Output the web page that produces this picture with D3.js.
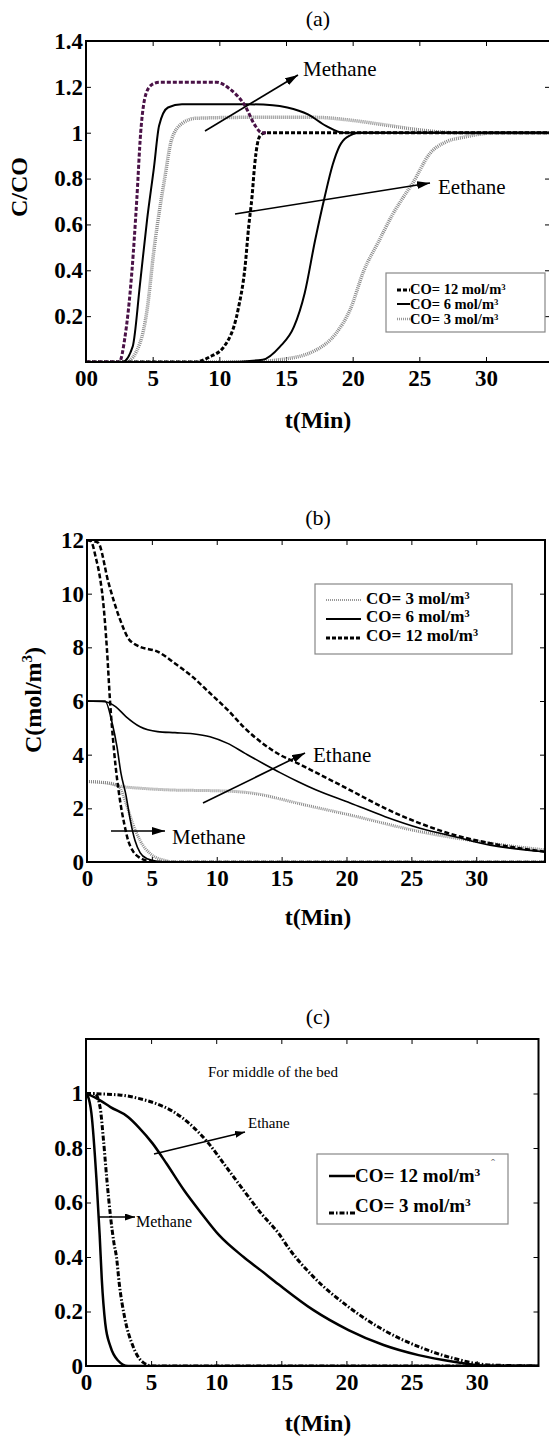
<!DOCTYPE html>
<html>
<head>
<meta charset="utf-8">
<script src="https://cdn.jsdelivr.net/npm/d3@7"></script>
<style>
    body { margin: 0; background: #fff; }
    svg text { font-family: "Liberation Serif", "Times New Roman", serif; }
</style>
</head>
<body>
<div id="chart"></div>
<script>
// Tick values shared by the three panels
var xTicks = [0, 5, 10, 15, 20, 25, 30];
var yTicksA = [0.2, 0.4, 0.6, 0.8, 1, 1.2, 1.4];
var yTicksB = [0, 2, 4, 6, 8, 10, 12];
var yTicksC = [0, 0.2, 0.4, 0.6, 0.8, 1];

// Panel (a): C/CO vs t(Min), [t, value]
var aMethane12 = [[0, 0], [2.5, 0], [2.9, 0.1], [3.45, 0.4], [3.8, 0.7], [4.1, 1.0], [4.5, 1.17], [4.95, 1.21], [5.5, 1.22], [9.8, 1.22], [10.8, 1.19], [11.9, 1.12], [12.7, 1.03], [13.2, 1.0], [13.6, 1.0]];
var aEthane12 = [[0, 0], [8.2, 0], [9.3, 0.023], [10.35, 0.067], [11.4, 0.227], [11.93, 0.416], [12.2, 0.59], [12.45, 0.72], [12.65, 0.86], [12.85, 0.95], [13.1, 0.99], [13.5, 1.0], [34.8, 1.0]];
var aMethane6 = [[0, 0], [2.74, 0], [3.5, 0.067], [4.05, 0.34], [4.58, 0.62], [5.1, 0.85], [5.48, 1.03], [6.15, 1.11], [7.2, 1.124], [12, 1.124], [14, 1.12], [15.1, 1.11], [16.65, 1.08], [18.0, 1.03], [19.3, 1.0], [34.8, 1.0]];
var aEthane6 = [[0, 0], [10.35, 0], [13.25, 0.01], [14.55, 0.067], [15.6, 0.154], [16.4, 0.3], [17.18, 0.53], [17.9, 0.72], [18.5, 0.86], [19.0, 0.94], [19.55, 0.98], [20.6, 1.0], [34.8, 1.0]];
var aMethane3 = [[0, 0], [3.0, 0], [4.05, 0.083], [4.58, 0.227], [5.1, 0.49], [5.63, 0.706], [5.9, 0.8], [6.42, 0.97], [7.2, 1.04], [8.25, 1.063], [12, 1.067], [17.18, 1.067], [19.8, 1.055], [22.4, 1.034], [25.06, 1.012], [27.7, 1.0], [34.8, 1.0]];
var aEthane3 = [[0, 0], [11.93, 0], [14.55, 0.01], [17.18, 0.05], [18.75, 0.125], [19.8, 0.227], [20.85, 0.4], [21.9, 0.52], [22.96, 0.64], [23.7, 0.71], [24.5, 0.78], [25.8, 0.91], [27.0, 0.96], [28.3, 0.98], [30.8, 1.0], [34.8, 1.0]];

// Panel (b): C(mol/m3) vs t(Min)
var bMethane12 = [[0, 12], [0.3, 11.95], [0.7, 11.3], [1.0, 10.6], [1.23, 9.77], [1.54, 7.9], [1.77, 6.04], [2.08, 4.17], [2.54, 2.31], [2.88, 1.4], [3.16, 0.82], [3.55, 0.4], [4.09, 0.15], [4.6, 0.05], [5.17, 0], [35.3, 0]];
var bEthane12 = [[0, 12], [0.85, 11.9], [1.66, 10.4], [2.47, 9.14], [3.28, 8.27], [3.55, 8.16], [4.09, 8.02], [5.44, 7.84], [6.78, 7.4], [8.14, 6.9], [9.48, 6.29], [10.84, 5.67], [12.18, 4.98], [13.54, 4.42], [14.88, 3.99], [16.24, 3.68], [17.58, 3.35], [20.28, 2.68], [22.98, 2.0], [25.67, 1.44], [28.37, 1.0], [31.07, 0.7], [35.3, 0.38]];
var bMethane6 = [[0, 6], [1.39, 6], [1.93, 5.2], [2.31, 4.3], [2.62, 3.3], [3.0, 2.5], [3.32, 1.6], [3.7, 0.8], [4.09, 0.35], [4.63, 0.12], [5.4, 0.03], [6.4, 0], [35.3, 0]];
var bEthane6 = [[0, 6], [1.39, 5.97], [2.2, 5.79], [3.0, 5.42], [4.09, 5.04], [5.44, 4.86], [6.78, 4.82], [8.14, 4.78], [9.48, 4.67], [10.84, 4.42], [12.18, 4.05], [13.54, 3.68], [14.88, 3.33], [16.24, 3.0], [17.58, 2.7], [20.28, 2.2], [22.98, 1.69], [25.67, 1.26], [28.37, 0.94], [31.07, 0.63], [35.3, 0.38]];
var bMethane3 = [[0, 3.0], [1.62, 2.95], [2.47, 2.8], [3.0, 2.2], [3.55, 1.4], [4.09, 0.8], [4.9, 0.3], [5.98, 0.06], [6.78, 0], [35.3, 0]];
var bEthane3 = [[0, 3.0], [1.66, 2.93], [2.74, 2.81], [4.09, 2.75], [6.78, 2.68], [9.48, 2.66], [11.64, 2.62], [13.54, 2.5], [14.88, 2.35], [16.24, 2.19], [20.28, 1.75], [25.67, 1.13], [31.07, 0.7], [35.3, 0.45]];

// Panel (c): middle of the bed
var cMethane12 = [[0, 1], [0.15, 0.99], [0.41, 0.93], [0.81, 0.68], [1.05, 0.48], [1.21, 0.32], [1.48, 0.156], [1.88, 0.071], [2.42, 0.022], [3.23, 0], [34.75, 0]];
var cMethane3 = [[0, 1], [0.68, 1.0], [1.08, 0.95], [1.34, 0.83], [1.61, 0.68], [1.88, 0.55], [2.15, 0.45], [2.34, 0.4], [2.56, 0.3], [2.96, 0.18], [3.63, 0.07], [4.31, 0.016], [5.11, 0], [34.75, 0]];
var cEthane12 = [[0, 1.0], [1.08, 0.975], [1.88, 0.95], [3.23, 0.914], [4.03, 0.877], [5.11, 0.817], [6.18, 0.743], [7.53, 0.645], [8.87, 0.56], [10.22, 0.48], [12.1, 0.4], [13.45, 0.35], [14.78, 0.3], [17.47, 0.205], [20.16, 0.132], [22.85, 0.077], [25.54, 0.04], [28.23, 0.016], [30.9, 0], [34.75, 0]];
var cEthane3 = [[0, 1.0], [2.69, 0.994], [4.03, 0.982], [5.38, 0.963], [6.72, 0.933], [8.07, 0.884], [9.41, 0.817], [10.76, 0.731], [12.1, 0.645], [13.45, 0.56], [14.78, 0.487], [15.6, 0.43], [17.47, 0.327], [20.16, 0.217], [22.85, 0.132], [25.54, 0.071], [28.23, 0.028], [30.9, 0.004], [34.75, 0]];

// Legend labels
var legendA = ["CO= 12 mol/m", "CO= 6 mol/m", "CO= 3 mol/m"];
var legendB = ["CO= 3 mol/m", "CO= 6 mol/m", "CO= 12 mol/m"];
var legendC = ["CO= 12 mol/m", "CO= 3 mol/m"];

// Line styles
var styles = {
    dashPurple: { color: "#4a1247", width: 3, dash: "4,2" },
    dashBlack: { color: "#000", width: 3, dash: "4,2" },
    solidA: { color: "#000", width: 2, dash: null },
    dotA: { color: "#8a8a8a", width: 3.5, dash: "1,1" },
    dashB: { color: "#000", width: 2.5, dash: "5,2.5" },
    solidB: { color: "#000", width: 1.6, dash: null },
    dotB: { color: "#8a8a8a", width: 3, dash: "1,1" },
    solidC: { color: "#000", width: 2.5, dash: null },
    dashDotC: { color: "#000", width: 3, dash: "5,2,1.5,2" }
};

var svg = d3.select("#chart").append("svg")
    .attr("width", 549)
    .attr("height", 1436)
    .attr("font-family", "'Liberation Serif', 'Times New Roman', serif")
    .style("background", "#fff");

var defs = svg.append("defs");

// Arrow heads, a large one and a small one
function addMarker(id, len, half) {
    defs.append("marker")
        .attr("id", id)
        .attr("viewBox", `0 0 ${len} ${half * 2}`)
        .attr("refX", len)
        .attr("refY", half)
        .attr("markerWidth", len)
        .attr("markerHeight", half * 2)
        .attr("markerUnits", "userSpaceOnUse")
        .attr("orient", "auto")
        .append("path")
        .attr("d", `M0,0L${len},${half}L0,${half * 2}Z`)
        .attr("fill", "#000");
}
addMarker("arrowBig", 13, 4);
addMarker("arrowSmall", 10, 3.5);

// Draw one panel: box, axes, curves
function drawPanel(p) {
    var x = d3.scaleLinear().domain([0, p.xMax]).range([p.left, p.right]);
    var y = d3.scaleLinear().domain([0, p.yMax]).range([p.bottom, p.top]);
    var g = svg.append("g");

    defs.append("clipPath").attr("id", p.id + "-clip")
        .append("rect")
        .attr("x", p.left)
        .attr("y", p.top)
        .attr("width", p.right - p.left)
        .attr("height", p.bottom - p.top);

    // Bottom axis with labels, ticks point inward
    var xAxis = g.append("g")
        .attr("transform", `translate(0,${p.bottom})`)
        .call(d3.axisBottom(x).tickValues(xTicks).tickSizeInner(-5).tickSizeOuter(0).tickPadding(8)
            .tickFormat(p.xFormat || (d => d)));

    // Left axis with labels
    var yAxis = g.append("g")
        .attr("transform", `translate(${p.left},0)`)
        .call(d3.axisLeft(y).tickValues(p.yTicks).tickSizeInner(-5).tickSizeOuter(0).tickPadding(3)
            .tickFormat(d => d));

    // Top and right tick marks only
    var xTop = g.append("g")
        .attr("transform", `translate(0,${p.top})`)
        .call(d3.axisTop(x).tickValues(xTicks).tickSizeInner(-5).tickSizeOuter(0).tickFormat(""));
    var yRight = g.append("g")
        .attr("transform", `translate(${p.right},0)`)
        .call(d3.axisRight(y).tickValues(p.yTicks).tickSizeInner(-5).tickSizeOuter(0).tickFormat(""));

    [xAxis, yAxis, xTop, yRight].forEach(function (a) {
        a.attr("font-family", null).attr("font-size", null);
        a.select(".domain").remove();
        a.selectAll(".tick line").attr("stroke", "#000").attr("stroke-width", 1);
        a.selectAll("text")
            .attr("font-size", 23)
            .attr("font-weight", "bold")
            .attr("fill", "#000");
    });

    // Curves
    var line = d3.line()
        .x(d => x(d[0]))
        .y(d => y(d[1]))
        .curve(d3.curveMonotoneX);

    g.append("g")
        .attr("clip-path", `url(#${p.id}-clip)`)
        .selectAll("path")
        .data(p.series)
        .join("path")
        .attr("d", s => line(s.data))
        .attr("fill", "none")
        .attr("stroke", s => s.style.color)
        .attr("stroke-width", s => s.style.width)
        .attr("stroke-dasharray", s => s.style.dash)
        .attr("stroke-linejoin", "round");

    // Frame
    g.append("rect")
        .attr("x", p.left)
        .attr("y", p.top)
        .attr("width", p.right - p.left)
        .attr("height", p.bottom - p.top)
        .attr("fill", "none")
        .attr("stroke", "#000")
        .attr("stroke-width", 2);

    // Panel title and x title
    svg.append("text")
        .attr("x", 318).attr("y", p.top - 23).attr("dy", "0.35em")
        .attr("text-anchor", "middle").attr("font-size", 22)
        .text(p.title);
    svg.append("text")
        .attr("x", 318).attr("y", p.xTitleY).attr("dy", "0.35em")
        .attr("text-anchor", "middle").attr("font-size", 24).attr("font-weight", "bold")
        .text("t(Min)");

    return { x: x, y: y };
}

// Legend box with line samples and superscript 3
function drawLegend(box, labels, rows) {
    svg.append("rect")
        .attr("x", box.x).attr("y", box.y)
        .attr("width", box.w).attr("height", box.h)
        .attr("fill", "#fff")
        .attr("stroke", "#888")
        .attr("stroke-width", 1.2);
    labels.forEach(function (lab, i) {
        var r = rows[i];
        svg.append("line")
            .attr("x1", r.x1).attr("x2", r.x2)
            .attr("y1", r.ly).attr("y2", r.ly)
            .attr("stroke", r.style.color)
            .attr("stroke-width", r.style.width)
            .attr("stroke-dasharray", r.style.dash);
        var t = svg.append("text")
            .attr("x", r.tx).attr("y", r.ty)
            .attr("font-size", box.fs).attr("font-weight", "bold");
        t.append("tspan").text(lab);
        t.append("tspan").attr("dy", -box.fs * 0.3).attr("font-size", box.fs * 0.6).text("3");
    });
}

// Arrow with its label
function drawArrow(x1, y1, x2, y2, marker) {
    svg.append("line")
        .attr("x1", x1).attr("y1", y1)
        .attr("x2", x2).attr("y2", y2)
        .attr("stroke", "#000")
        .attr("stroke-width", 1.6)
        .attr("marker-end", `url(#${marker})`);
}
function drawNote(x, y, txt, fs) {
    svg.append("text")
        .attr("x", x).attr("y", y)
        .attr("font-size", fs)
        .text(txt);
}

// ---- Panel (a)
drawPanel({
    id: "pa", title: "(a)", left: 86, right: 550, top: 41, bottom: 362,
    xMax: 34.8, yMax: 1.4, yTicks: yTicksA, xTitleY: 420,
    xFormat: d => d === 0 ? "00" : d,
    series: [
        { data: aMethane3, style: styles.dotA },
        { data: aEthane3, style: styles.dotA },
        { data: aMethane6, style: styles.solidA },
        { data: aEthane6, style: styles.solidA },
        { data: aEthane12, style: styles.dashBlack },
        { data: aMethane12, style: styles.dashPurple }
    ]
});
svg.append("text")
    .attr("transform", "translate(19,187) rotate(-90)")
    .attr("dy", "0.35em").attr("text-anchor", "middle")
    .attr("font-size", 24).attr("font-weight", "bold")
    .text("C/CO");
drawArrow(205, 131, 298, 75, "arrowBig");
drawNote(303, 76, "Methane", 21);
drawArrow(235, 214, 430, 183, "arrowBig");
drawNote(438, 194, "Eethane", 21);
drawLegend({ x: 386, y: 273, w: 159, h: 59, fs: 14.5 }, legendA, [
    { x1: 397, x2: 410, ly: 290, tx: 410, ty: 294, style: styles.dashBlack },
    { x1: 397, x2: 410, ly: 304, tx: 410, ty: 309, style: styles.solidA },
    { x1: 397, x2: 410, ly: 319, tx: 410, ty: 324, style: { color: "#999", width: 2.5, dash: "1,1" } }
]);

// ---- Panel (b)
drawPanel({
    id: "pb", title: "(b)", left: 87, right: 545, top: 540, bottom: 862,
    xMax: 35.3, yMax: 12, yTicks: yTicksB, xTitleY: 917,
    series: [
        { data: bMethane3, style: styles.dotB },
        { data: bEthane3, style: styles.dotB },
        { data: bMethane6, style: styles.solidB },
        { data: bEthane6, style: styles.solidB },
        { data: bMethane12, style: styles.dashB },
        { data: bEthane12, style: styles.dashB }
    ]
});
var yLabB = svg.append("text")
    .attr("transform", "translate(33,700) rotate(-90)")
    .attr("dy", "0.35em").attr("text-anchor", "middle")
    .attr("font-size", 24).attr("font-weight", "bold");
yLabB.append("tspan").text("C(mol/m");
yLabB.append("tspan").attr("dy", -9).attr("font-size", 15).text("3");
yLabB.append("tspan").attr("dy", 9).text(")");
drawArrow(203, 803, 305, 753, "arrowBig");
drawNote(313, 762, "Ethane", 21);
drawArrow(111, 831, 165, 831, "arrowBig");
drawNote(172, 844, "Methane", 21);
drawLegend({ x: 315, y: 584, w: 197, h: 70, fs: 17 }, legendB, [
    { x1: 326, x2: 361, ly: 600, tx: 366, ty: 604, style: { color: "#999", width: 2, dash: "1,1" } },
    { x1: 326, x2: 361, ly: 619, tx: 366, ty: 622, style: { color: "#000", width: 2, dash: null } },
    { x1: 326, x2: 361, ly: 638, tx: 366, ty: 641, style: { color: "#000", width: 3, dash: "4,2" } }
]);

// ---- Panel (c)
drawPanel({
    id: "pc", title: "(c)", left: 86, right: 538.5, top: 1039, bottom: 1366,
    xMax: 34.75, yMax: 1.2, yTicks: yTicksC, xTitleY: 1423,
    series: [
        { data: cMethane12, style: styles.solidC },
        { data: cEthane12, style: styles.solidC },
        { data: cMethane3, style: styles.dashDotC },
        { data: cEthane3, style: styles.dashDotC }
    ]
});
svg.append("text")
    .attr("x", 273).attr("y", 1077)
    .attr("text-anchor", "middle").attr("font-size", 15)
    .text("For middle of the bed");
drawArrow(154, 1154, 245, 1132, "arrowSmall");
drawNote(248, 1128, "Ethane", 15);
drawArrow(98, 1217, 135, 1217, "arrowSmall");
drawNote(136, 1227, "Methane", 16);
drawLegend({ x: 317, y: 1154, w: 191, h: 70, fs: 19 }, legendC, [
    { x1: 329, x2: 355, ly: 1176, tx: 355, ty: 1182, style: styles.solidC },
    { x1: 329, x2: 355, ly: 1213, tx: 355, ty: 1212, style: styles.dashDotC }
]);
svg.append("text")
    .attr("x", 493).attr("y", 1168)
    .attr("text-anchor", "middle").attr("font-size", 12).attr("fill", "#777")
    .text("ˆ");
</script>
</body>
</html>
